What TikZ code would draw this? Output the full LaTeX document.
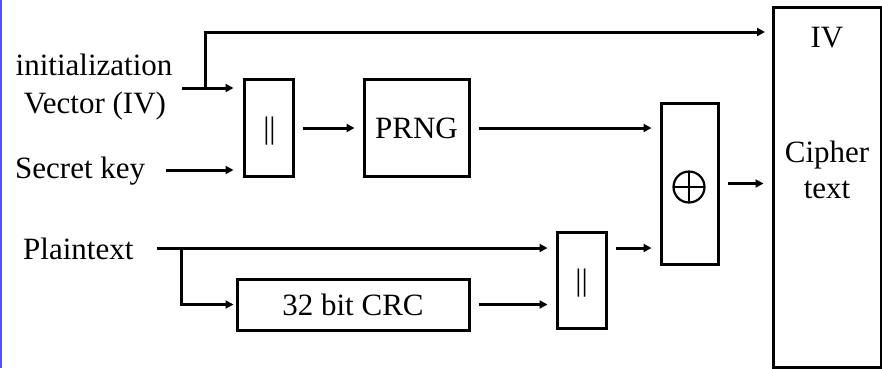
\documentclass[tikz,border=0pt]{standalone}
\usepackage{fontspec}
\setmainfont{Liberation Serif}
\usetikzlibrary{arrows.meta,calc}
\begin{document}
\begin{tikzpicture}[x=1pt,y=-1pt,
  font=\fontsize{31}{36}\selectfont,
  blk/.style={draw,line width=3pt,rectangle,inner sep=0pt,fill=white},
  lbl/.style={inner sep=0pt,anchor=base},
  arr/.style={line width=3pt,-{Triangle[length=8pt,width=8pt]}},
  gapin/.style={shorten >=8pt},
  gapout/.style={shorten <=8pt}]
\useasboundingbox (0,0) rectangle (882,368);
\draw[line width=2pt,color={rgb,255:red,80;green,80;blue,255}] (1.2,0) -- (1.2,368);
% blocks
\node[blk,minimum width=49pt,minimum height=97pt] (cat1) at (268.5,128) {};
\node[inner sep=0pt] (bars1) at (269.5,131) {||};
\node[blk,minimum width=105pt,minimum height=97pt] (prng) at (416.5,128) {PRNG};
\node[blk,minimum width=57pt,minimum height=161pt] (xor) at (689.5,183.5) {};
\node[draw,circle,line width=2.2pt,minimum size=31pt,inner sep=0pt,
  path picture={\draw[line width=2.2pt] (path picture bounding box.north) -- (path picture bounding box.south)
  (path picture bounding box.west) -- (path picture bounding box.east);}] (oplus) at (689,187) {};
\node[blk,minimum width=108pt,minimum height=360pt] (cipher) at (827,187) {};
\node[blk,minimum width=232pt,minimum height=51pt] (crc) at (353,304.5) {32 bit CRC};
\node[blk,minimum width=49pt,minimum height=96pt] (cat2) at (581.5,280) {};
\node[inner sep=0pt] (bars2) at (581.5,283) {||};
% labels
\node[lbl] (ivt1) at (94,75) {initialization};
\node[lbl] (ivt2) at (95,113) {Vector (IV)};
\node[lbl,anchor=base west] (sk) at (15,178) {Secret key};
\node[lbl,anchor=base west] (pt) at (23,259) {Plaintext};
\node[lbl] (ivout) at (827,47) {IV};
\node[lbl] (ct1) at (827,162) {Cipher};
\node[lbl] (ct2) at (827,198) {text};
% coordinates
\coordinate (ivstart) at (182,88);
\coordinate (ivbranch) at (205,88);
\coordinate (ivin) at (773,32);
\coordinate (skstart) at (166,170);
\coordinate (ptstart) at (157,248);
\coordinate (ptbranch) at (181,248);
% connectors
\draw[arr,shorten >=9pt] (ivstart) -- (ivstart -| cat1.west);
\draw[arr,gapin] (ivbranch) |- (ivin);
\draw[arr,shorten >=9pt] (skstart) -- (skstart -| cat1.west);
\draw[arr,gapin,gapout] (cat1.east) -- (prng.west);
\draw[arr,gapin,gapout] (prng.east) -- (prng.east -| xor.west);
\draw[arr,gapin] (ptstart) -- (ptstart -| cat2.west);
\draw[arr,shorten >=2pt] (ptbranch) |- (crc.west);
\draw[arr,gapin,gapout] (crc.east) -- (crc.east -| cat2.west);
\draw[arr,gapin,gapout] (cat2.east |- ptstart) -- (xor.west |- ptstart);
\draw[arr,gapin,gapout] (xor.east) -- (xor.east -| cipher.west);
\end{tikzpicture}
\end{document}
